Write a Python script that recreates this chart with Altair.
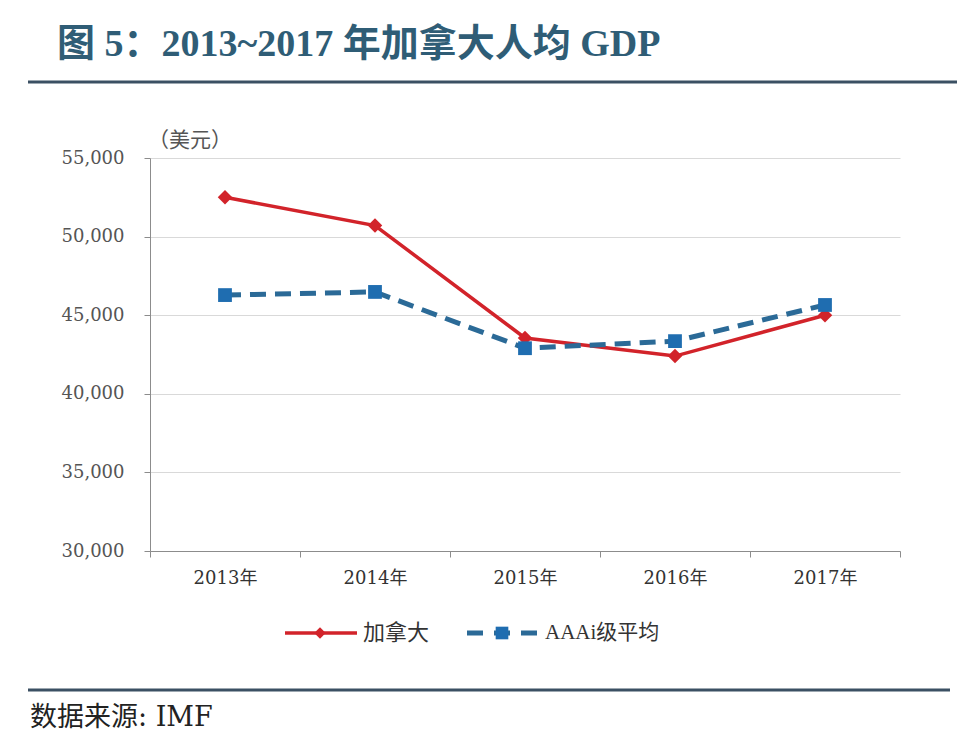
import altair as alt
import pandas as pd

# ---- data ----
years = ["2013年", "2014年", "2015年", "2016年", "2017年"]
canada = [52500, 50700, 43550, 42400, 45000]
aaa_avg = [46280, 46480, 42900, 43350, 45650]
series_names = ["加拿大", "AAAi级平均"]
y_ticks = [30000, 35000, 40000, 45000, 50000, 55000]

title_text = "图 5：2013~2017 年加拿大人均 GDP"
unit_text = "（美元）"
source_text = "数据来源: IMF"

RED = "#d2232a"
BLUE_LINE = "#2b6a97"
BLUE_MARK = "#1f6db0"
TITLE_COLOR = "#2f5d76"
RULE_COLOR = "#3b5063"

SERIF = "DejaVu Serif, Noto Sans CJK SC"
TITLE_FONT = "Liberation Serif, Noto Sans CJK SC"

df_ca = pd.DataFrame({"year": years, "value": canada, "series": series_names[0]})
df_aaa = pd.DataFrame({"year": years, "value": aaa_avg, "series": series_names[1]})

x_enc = alt.X(
    "year:N",
    sort=years,
    bandPosition=0.5,
    scale=alt.Scale(type="band", paddingInner=0, paddingOuter=0),
    axis=alt.Axis(
        title=None,
        labelAngle=0,
        tickBand="extent",
        domainColor="#8c8c8c",
        tickColor="#8c8c8c",
        tickSize=6,
        labelFont=SERIF,
        labelFontSize=18,
        labelColor="#333333",
        labelPadding=12,
        grid=False,
    ),
)
y_enc = alt.Y(
    "value:Q",
    scale=alt.Scale(domain=[30000, 55000], nice=False, zero=False),
    axis=alt.Axis(
        title=None,
        values=y_ticks,
        format=",d",
        grid=True,
        gridColor="#d9d9d9",
        domainColor="#8c8c8c",
        tickColor="#8c8c8c",
        tickSize=6,
        labelFont=SERIF,
        labelFontSize=18,
        labelColor="#555555",
        labelPadding=20,
    ),
)

red_line = alt.Chart(df_ca).mark_line(color=RED, strokeWidth=3.5).encode(x=x_enc, y=y_enc)
red_pts = alt.Chart(df_ca).mark_point(shape="diamond", filled=True, size=210, color=RED, opacity=1).encode(x=x_enc, y=y_enc)
blue_line = alt.Chart(df_aaa).mark_line(color=BLUE_LINE, strokeWidth=5, strokeDash=[16, 9]).encode(x=x_enc, y=y_enc)
blue_pts = alt.Chart(df_aaa).mark_point(shape="square", filled=True, size=190, color=BLUE_MARK, opacity=1).encode(x=x_enc, y=y_enc)

one = pd.DataFrame({"a": [0]})

def text_layer(txt, x, y, size, font, color, weight="normal", align="left"):
    return alt.Chart(one).mark_text(
        text=txt, align=align, baseline="middle", fontSize=size, font=font,
        color=color, fontWeight=weight
    ).encode(x=alt.value(x), y=alt.value(y))

def rule_layer(x1, x2, y, color, width, dash=None):
    kw = dict(color=color, strokeWidth=width)
    if dash:
        kw["strokeDash"] = dash
    return alt.Chart(one).mark_rule(**kw).encode(x=alt.value(x1), x2=alt.value(x2), y=alt.value(y))

title = text_layer(title_text, -93, -113, 38, TITLE_FONT, TITLE_COLOR, weight="bold")
top_rule = rule_layer(-122, 807, -76, RULE_COLOR, 3)
unit = text_layer(unit_text, 40, -17, 21, "Noto Sans CJK SC", "#555555", align="center")
bottom_rule = rule_layer(-122, 800, 532, RULE_COLOR, 3)
source = text_layer(source_text, -120, 560, 27, SERIF, "#222222")

# manual legend
leg_y = 475
leg_red_line = rule_layer(135, 207, leg_y, RED, 3.5)
leg_red_pt = alt.Chart(one).mark_point(shape="diamond", filled=True, size=130, color=RED, opacity=1).encode(x=alt.value(170), y=alt.value(leg_y))
leg_red_txt = text_layer(series_names[0], 213, leg_y, 22, "Noto Sans CJK SC", "#333333")
leg_blue_line = rule_layer(317, 389, leg_y, BLUE_LINE, 5, dash=[16, 11])
leg_blue_pt = alt.Chart(one).mark_point(shape="square", filled=True, size=160, color=BLUE_MARK, opacity=1).encode(x=alt.value(352), y=alt.value(leg_y))
leg_blue_txt = text_layer(series_names[1], 395, leg_y, 21, "Liberation Serif, Noto Sans CJK SC", "#333333")

chart = alt.layer(
    red_line, red_pts, blue_line, blue_pts,
    title, top_rule, unit, bottom_rule, source,
    leg_red_line, leg_red_pt, leg_red_txt, leg_blue_line, leg_blue_pt, leg_blue_txt,
).properties(
    width=750,
    height=393,
    autosize=alt.AutoSizeParams(type="none"),
    padding={"left": 142, "top": 150, "right": 64, "bottom": 180},
    background="white",
).configure_view(stroke=None)

chart.save("out.html", embed_options={"renderer": "svg", "actions": False})
